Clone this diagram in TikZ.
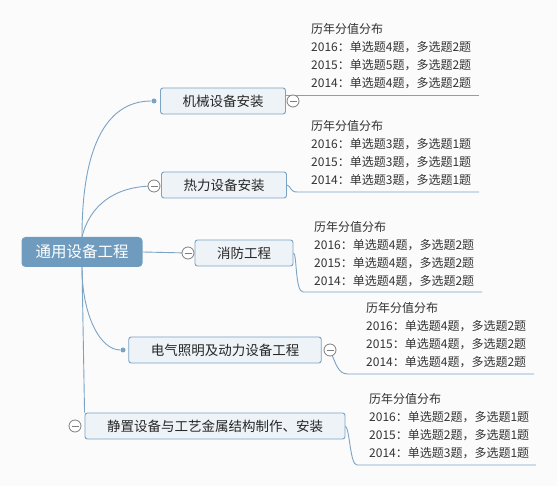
\documentclass[tikz,border=0pt]{standalone}
\usepackage{fontspec}
\setmainfont{Noto Sans CJK SC}
\usepackage{xcolor}
\usepackage{tikz}
\usetikzlibrary{positioning}

\definecolor{mapline}{HTML}{7BA3C4}
\definecolor{rootfill}{HTML}{6F9CBE}
\definecolor{topicfill}{HTML}{EEF3F7}
\definecolor{foldgrey}{HTML}{7F7F7F}
\definecolor{notegrey}{HTML}{333333}
\definecolor{paper}{HTML}{FBFBFC}

\tikzset{
  rootbox/.style={fill=rootfill, text=white, rounded corners=4pt,
                  minimum height=30pt, inner xsep=14pt,
                  font=\fontsize{15.5}{18}\selectfont},
  topic/.style={draw=mapline, fill=topicfill, line width=0.9pt,
                rounded corners=2.5pt, minimum height=26pt, inner xsep=22pt,
                text=black!85, font=\fontsize{13.5}{16}\selectfont},
  fold/.style={circle, draw=foldgrey, fill=white, line width=0.8pt,
               minimum size=12pt, inner sep=0pt,
               path picture={\draw[foldgrey, line width=0.8pt]
                 ([xshift=2.5pt]path picture bounding box.west) --
                 ([xshift=-2.5pt]path picture bounding box.east);}},
  dot/.style={circle, fill=mapline, minimum size=5pt, inner sep=0pt},
  link/.style={draw=mapline, line width=0.9pt},
  note/.style={anchor=north west, align=left, inner sep=0pt, text=notegrey,
               font=\fontsize{12}{18}\selectfont}
}

\begin{document}
\begin{tikzpicture}[x=1pt,y=-1pt]
\fill[paper] (0,0) rectangle (557,486);
\useasboundingbox (0,0) rectangle (557,486);

% root and topics
\node[rootbox] (root) at (82,252) {通用设备工程};
\node[topic] (b1) at (223,101) {机械设备安装};
\node[topic] (b2) at (224,185) {热力设备安装};
\node[topic] (b3) at (244,253) {消防工程};
\node[topic] (b4) at (225,350) {电气照明及动力设备工程};
\node[topic] (b5) at (215,426) {静置设备与工艺金属结构制作、安装};

% ends of the underlines
\coordinate (u1) at (479,95);
\coordinate (u2) at (479,192);
\coordinate (u3) at (482,292);
\coordinate (u4) at (534,374);
\coordinate (u5) at (536,465);

% links from the root
\node[dot] (d1) at (154,101) {};
\node[dot] (d4) at (123,350) {};
\draw[link] (root.north) .. controls (82,140) and (110,101) .. (d1);
\draw[link] (root.north) .. controls (90,205) and (115,186) .. (154,186);
\draw[link] (root.east) -- (188,253);
\draw[link] (root.south) .. controls (82,315) and (100,350) .. (d4);
\draw[link] (root.south) -- (b5.north west);

% underlines to the notes
\draw[link] (b1.east |- u1) -- (u1);
\draw[link] (b2.east) .. controls (291,186) and (290,192) .. (297,192) -- (u2);
\draw[link] (b3.east) .. controls (297,253) and (295,292) .. (303,292) -- (u3);
\draw[link] (330,350) .. controls (336,364) and (338,374) .. (348,374) -- (u4);
\draw[link] (b5.east) .. controls (350,430) and (350,465) .. (357,465) -- (u5);

% fold marks
\node[fold] (c1) at (293,101) {};
\node[fold] (c2) at (154,186) {};
\node[fold] (c3) at (188,253) {};
\node[fold] (c4) at (330,350) {};
\node[fold] (c5) at (75,426) {};

% notes
\node[note] (n1) at (311,23) {历年分值分布\\2016：单选题4题，多选题2题\\2015：单选题5题，多选题2题\\2014：单选题4题，多选题2题};
\node[note] (n2) at (311,120) {历年分值分布\\2016：单选题3题，多选题1题\\2015：单选题3题，多选题1题\\2014：单选题3题，多选题1题};
\node[note] (n3) at (314,221) {历年分值分布\\2016：单选题4题，多选题2题\\2015：单选题4题，多选题2题\\2014：单选题4题，多选题2题};
\node[note] (n4) at (366,302) {历年分值分布\\2016：单选题4题，多选题2题\\2015：单选题4题，多选题2题\\2014：单选题4题，多选题2题};
\node[note] (n5) at (369,393) {历年分值分布\\2016：单选题2题，多选题1题\\2015：单选题2题，多选题1题\\2014：单选题3题，多选题1题};
\end{tikzpicture}
\end{document}
